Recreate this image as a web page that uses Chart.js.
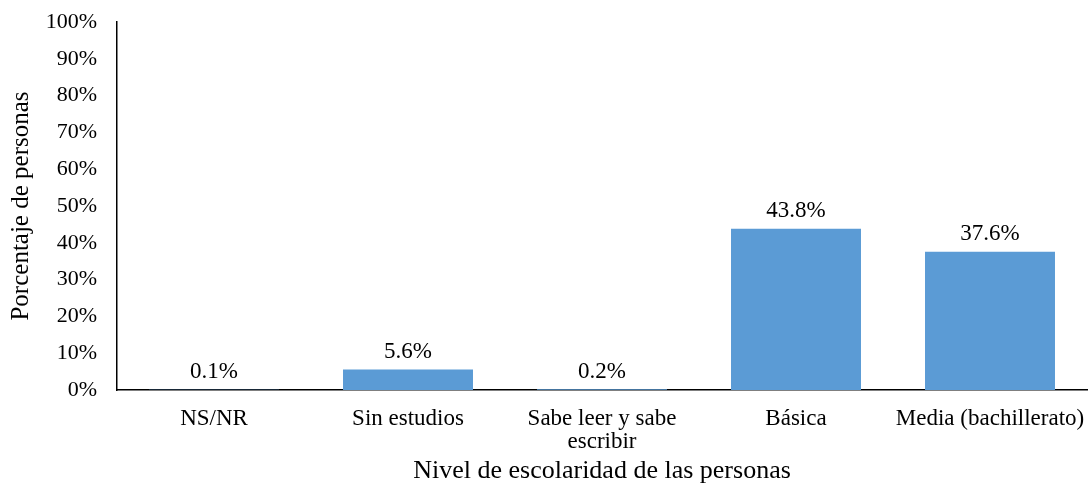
<!DOCTYPE html>
<html>
<head>
<meta charset="utf-8">
<script src="https://cdn.jsdelivr.net/npm/chart.js@4/dist/chart.umd.min.js"></script>
<style>
  html, body { margin: 0; padding: 0; background: #fff; }
  #wrap { width: 1091px; height: 489px; }
</style>
</head>
<body>
<div id="wrap"><canvas id="escolaridad"></canvas></div>
<script>
const categories = ['NS/NR', 'Sin estudios', ['Sabe leer y sabe', 'escribir'], 'Básica', 'Media (bachillerato)'];
const porcentajes = [0.1, 5.6, 0.2, 43.8, 37.6];
const yTicks = [0, 10, 20, 30, 40, 50, 60, 70, 80, 90, 100];

const serif = "'Liberation Serif', 'Times New Roman', serif";

// etiquetas de valor encima de cada barra
const valueLabels = {
    id: 'valueLabels',
    afterDatasetsDraw(chart) {
        const ctx = chart.ctx;
        const meta = chart.getDatasetMeta(0);
        ctx.save();
        ctx.font = '23px ' + serif;
        ctx.fillStyle = '#000';
        ctx.textAlign = 'center';
        ctx.textBaseline = 'bottom';
        meta.data.forEach((bar, i) => {
            ctx.fillText(porcentajes[i].toFixed(1) + '%', bar.x, bar.y - 6);
        });
        ctx.restore();
    }
};

const canvas = document.getElementById('escolaridad');

new Chart(canvas, {
    type: 'bar',
    data: {
        labels: categories,
        datasets: [
            {
                label: 'Porcentaje de personas',
                data: porcentajes,
                backgroundColor: '#5B9BD5',
                categoryPercentage: 1,
                barPercentage: 0.67
            }
        ]
    },
    options: {
        responsive: true,
        maintainAspectRatio: false,
        animation: false,
        layout: {
            padding: { top: 22, right: 4, left: 6, bottom: 0 }
        },
        scales: {
            x: {
                grid: { display: false, drawTicks: false },
                border: { color: '#000', width: 1.5 },
                ticks: {
                    color: '#000',
                    font: { family: serif, size: 23, lineHeight: 1.0 },
                    padding: 17,
                    maxRotation: 0,
                    autoSkip: false
                },
                title: {
                    display: true,
                    text: 'Nivel de escolaridad de las personas',
                    color: '#000',
                    font: { family: serif, size: 26 },
                    padding: { top: 6, bottom: 2 }
                },
                afterFit(scale) {
                    scale.height = 99;
                    scale.paddingLeft = 0;
                    scale.paddingRight = 0;
                }
            },
            y: {
                min: 0,
                max: 100,
                afterBuildTicks(scale) {
                    scale.ticks = yTicks.map(v => ({ value: v }));
                },
                grid: { display: false, drawTicks: false },
                border: { color: '#000', width: 1.5 },
                ticks: {
                    color: '#000',
                    font: { family: serif, size: 22 },
                    padding: 20,
                    callback: v => v + '%'
                },
                title: {
                    display: true,
                    text: 'Porcentaje de personas',
                    color: '#000',
                    font: { family: serif, size: 25 },
                    padding: { top: 0, bottom: 4 }
                },
                afterFit(scale) {
                    scale.width = 111;
                    scale.paddingTop = 0;
                    scale.paddingBottom = 0;
                }
            }
        },
        plugins: {
            legend: { display: false },
            tooltip: { enabled: false }
        }
    },
    plugins: [valueLabels]
});
</script>
</body>
</html>
